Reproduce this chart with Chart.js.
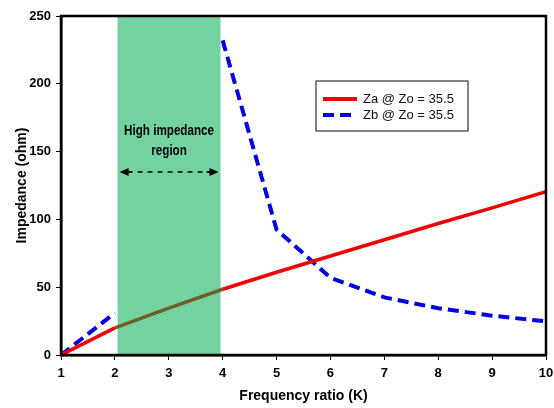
<!DOCTYPE html>
<html>
<head>
<meta charset="utf-8">
<script src="https://cdn.jsdelivr.net/npm/chart.js@4"></script>
<style>
html,body{margin:0;padding:0;background:#fff;}
#wrap{width:554px;height:408px;position:relative;}
</style>
</head>
<body>
<div id="wrap"><canvas id="c" width="554" height="408"></canvas></div>
<script>
// ---- data ----
const K = [1, 2, 3, 4, 5, 6, 7, 8, 9, 10];
const Za = [0, 20, 34.5, 48.5, 61, 73, 85, 97, 108.5, 120.5];
const Zb = [0, 31, null, 232, 92.5, 57, 42.5, 34.5, 29, 24.8];
const seriesLabels = ['Za @ Zo = 35.5', 'Zb @ Zo = 35.5'];
const xTicks = [1, 2, 3, 4, 5, 6, 7, 8, 9, 10];
const yTicks = [0, 50, 100, 150, 200, 250];
const regionK = [2.05, 3.96];
const regionText = ['High impedance', 'region'];
const regionTextY = [165, 150];
const regionArrowY = 135;

const RED = '#f00000';
const BLUE = '#0000e0';
const GREEN = '#73d2a0';
const BROWN = '#6e5f2a';

const toPts = (ys) => K.map((k, i) => ({x: k, y: ys[i]}));

const regionPlugin = {
  id: 'region',
  beforeDatasetsDraw(chart) {
    const {ctx, chartArea: a, scales: {x}} = chart;
    const x0 = x.getPixelForValue(regionK[0]);
    const x1 = x.getPixelForValue(regionK[1]);
    ctx.save();
    ctx.fillStyle = GREEN;
    ctx.fillRect(x0, a.top, x1 - x0, a.bottom - a.top);
    ctx.restore();
  },
  afterDatasetsDraw(chart) {
    const {ctx, chartArea: a, scales: {x, y}} = chart;
    const x0 = x.getPixelForValue(regionK[0]);
    const x1 = x.getPixelForValue(regionK[1]);
    const cx = (x0 + x1) / 2;
    ctx.save();
    ctx.fillStyle = '#000';
    ctx.textAlign = 'center';
    ctx.textBaseline = 'middle';
    ctx.font = "bold 14px 'Liberation Sans Narrow', 'Arial Narrow', 'Liberation Sans', Arial, sans-serif";
    const w0 = ctx.measureText(regionText[0]).width;
    const s = w0 > 92 ? 90 / w0 : 1;
    regionText.forEach((t, i) => {
      const yy = y.getPixelForValue(regionTextY[i]);
      ctx.save();
      ctx.translate(cx, yy);
      ctx.scale(s, 1);
      ctx.fillText(t, 0, 0);
      ctx.restore();
    });
    // dashed double arrow
    const ay = y.getPixelForValue(regionArrowY);
    const ax0 = x0 + 2, ax1 = x1 - 2;
    ctx.strokeStyle = '#000';
    ctx.lineWidth = 1.5;
    ctx.setLineDash([5, 5]);
    ctx.beginPath();
    ctx.moveTo(ax0 + 8, ay);
    ctx.lineTo(ax1 - 8, ay);
    ctx.stroke();
    ctx.setLineDash([]);
    ctx.beginPath();
    ctx.moveTo(ax0, ay); ctx.lineTo(ax0 + 9, ay - 4); ctx.lineTo(ax0 + 9, ay + 4); ctx.closePath();
    ctx.moveTo(ax1, ay); ctx.lineTo(ax1 - 9, ay - 4); ctx.lineTo(ax1 - 9, ay + 4); ctx.closePath();
    ctx.fill();
    ctx.beginPath();
    ctx.moveTo(ax0 + 8, ay); ctx.lineTo(ax0 + 12, ay);
    ctx.moveTo(ax1 - 8, ay); ctx.lineTo(ax1 - 12, ay);
    ctx.stroke();
    ctx.restore();
  },
  afterDraw(chart) {
    const {ctx, chartArea: a} = chart;
    ctx.save();
    // frame
    ctx.strokeStyle = '#000';
    ctx.lineWidth = 2.5;
    ctx.strokeRect(a.left, a.top, a.right - a.left, a.bottom - a.top);
    // legend box
    const lx = a.left + 255, ly = a.top + 65, lw = 152, lh = 50;
    ctx.lineWidth = 1.2;
    ctx.strokeStyle = '#333';
    ctx.fillStyle = '#fff';
    ctx.fillRect(lx, ly, lw, lh);
    ctx.strokeRect(lx, ly, lw, lh);
    const ds = chart.data.datasets;
    ds.forEach((d, i) => {
      const yy = ly + 18 + i * 16;
      ctx.strokeStyle = d.borderColor;
      ctx.lineWidth = 4;
      ctx.setLineDash(d.borderDash || []);
      ctx.beginPath();
      ctx.moveTo(lx + 7, yy);
      ctx.lineTo(lx + 41, yy);
      ctx.stroke();
      ctx.setLineDash([]);
      ctx.fillStyle = '#111';
      ctx.font = "13px 'Liberation Sans', Arial, sans-serif";
      ctx.textAlign = 'left';
      ctx.textBaseline = 'middle';
      ctx.fillText(d.label, lx + 47, yy);
    });
    ctx.restore();
  }
};

new Chart(document.getElementById('c'), {
  type: 'line',
  data: {
    datasets: [
      {
        label: seriesLabels[0],
        data: toPts(Za),
        borderColor: RED,
        borderWidth: 3.5,
        pointRadius: 0,
        tension: 0,
        segment: {
          borderColor: (c) => (c.p0.parsed.x >= regionK[0] - 0.1 && c.p1.parsed.x <= regionK[1] + 0.1) ? BROWN : RED
        }
      },
      {
        label: seriesLabels[1],
        data: toPts(Zb),
        borderColor: BLUE,
        borderWidth: 4,
        borderDash: [11, 6],
        pointRadius: 0,
        tension: 0,
        spanGaps: false
      }
    ]
  },
  options: {
    responsive: false,
    animation: false,
    layout: {padding: {top: 16, right: 0, left: 0, bottom: 0}},
    plugins: {legend: {display: false}, tooltip: {enabled: false}},
    scales: {
      x: {
        type: 'linear',
        min: 1, max: 10,
        afterBuildTicks: (s) => { s.ticks = xTicks.map(v => ({value: v})); },
        afterFit: (s) => { s.height = 53; s.paddingRight = 8; s.paddingLeft = 0; },
        grid: {drawOnChartArea: false, drawTicks: true, tickLength: 5, color: '#000', lineWidth: 1},
        border: {display: true, color: '#000', width: 2.5},
        ticks: {color: '#000', padding: 6, maxRotation: 0, font: {family: "'Liberation Sans', Arial, sans-serif", size: 13, weight: 'bold'}},
        title: {display: true, text: 'Frequency ratio (K)', color: '#000', padding: {top: 0, bottom: 3},
          font: {family: "'Liberation Sans', Arial, sans-serif", size: 14, weight: 'bold'}}
      },
      y: {
        min: 0, max: 250,
        afterBuildTicks: (s) => { s.ticks = yTicks.map(v => ({value: v})); },
        afterFit: (s) => { s.width = 61; s.paddingTop = 0; s.paddingBottom = 0; },
        grid: {drawOnChartArea: false, drawTicks: true, tickLength: 5, color: '#000', lineWidth: 1},
        border: {display: true, color: '#000', width: 2.5},
        ticks: {color: '#000', padding: 5, font: {family: "'Liberation Sans', Arial, sans-serif", size: 13, weight: 'bold'}},
        title: {display: true, text: 'Impedance (ohm)', color: '#000', padding: {top: 14, bottom: 0},
          font: {family: "'Liberation Sans', Arial, sans-serif", size: 14, weight: 'bold'}}
      }
    }
  },
  plugins: [regionPlugin]
});
</script>
</body>
</html>
